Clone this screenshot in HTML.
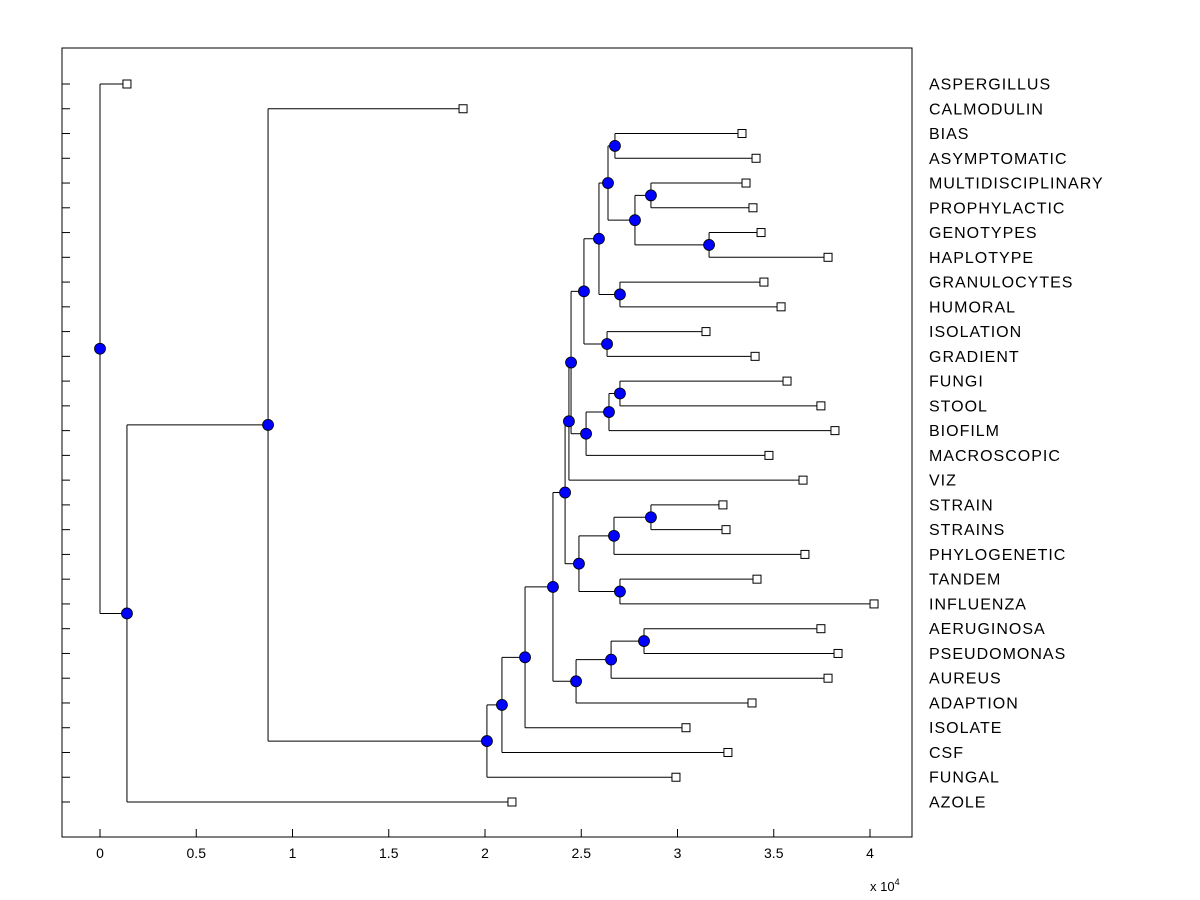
<!DOCTYPE html>
<html><head><meta charset="utf-8"><style>
html,body{margin:0;padding:0;background:#fff;}
svg{display:block;font-family:"Liberation Sans",Arial,sans-serif;}
</style></head><body>
<svg id="chart" width="1200" height="900">
<rect x="62" y="48" width="850" height="789" fill="#fff" stroke="#000" stroke-width="1"/>
<g id="axes"></g><g id="links"></g><g id="marks"></g>
<text x="870" y="891" font-size="13">x 10<tspan dy="-6" font-size="9">4</tspan></text>
</svg>
<script>
const leafNames=["ASPERGILLUS","CALMODULIN","BIAS","ASYMPTOMATIC","MULTIDISCIPLINARY","PROPHYLACTIC","GENOTYPES","HAPLOTYPE","GRANULOCYTES","HUMORAL","ISOLATION","GRADIENT","FUNGI","STOOL","BIOFILM","MACROSCOPIC","VIZ","STRAIN","STRAINS","PHYLOGENETIC","TANDEM","INFLUENZA","AERUGINOSA","PSEUDOMONAS","AUREUS","ADAPTION","ISOLATE","CSF","FUNGAL","AZOLE"];
const leafX=[0.14,1.886,3.335,3.408,3.356,3.392,3.434,3.782,3.449,3.538,3.148,3.403,3.569,3.745,3.818,3.475,3.652,3.236,3.252,3.662,3.413,4.021,3.745,3.834,3.782,3.387,3.044,3.262,2.992,2.14];
const nodeNames=["root","N1","N2","N3","N4","N5","N6","N7","N9","N11","N12","N14","N16","N18","N19","N20","N21","N17","N15","N13","N22","N23","N10","N24","N26","N25","N8","N27","N28"];
const nodeX=[0,0.14,0.873,2.01,2.088,2.208,2.353,2.416,2.436,2.447,2.514,2.592,2.639,2.675,2.779,2.862,3.164,2.701,2.634,2.525,2.644,2.701,2.488,2.670,2.862,2.701,2.473,2.655,2.826];
const nodeLeft=["ASPERGILLUS","N2","CALMODULIN","N4","N5","N6","N7","N9","N11","N12","N14","N16","N18","BIAS","N20","MULTIDISCIPLINARY","GENOTYPES","GRANULOCYTES","ISOLATION","N22","N23","FUNGI","N24","N26","STRAIN","TANDEM","N27","N28","AERUGINOSA"];
const nodeRight=["N1","AZOLE","N3","FUNGAL","CSF","ISOLATE","N8","N10","VIZ","N13","N15","N17","N19","ASYMPTOMATIC","N21","PROPHYLACTIC","HAPLOTYPE","HUMORAL","GRADIENT","MACROSCOPIC","BIOFILM","STOOL","N25","PHYLOGENETIC","STRAINS","INFLUENZA","ADAPTION","AUREUS","PSEUDOMONAS"];
const xTicks=[0,0.5,1,1.5,2,2.5,3,3.5,4];
const xTickLabels=["0","0.5","1","1.5","2","2.5","3","3.5","4"];

const NS="http://www.w3.org/2000/svg";
const sx=v=>100+v*192.5;
const rowY=i=>84+i*(802-84)/29;
function mk(tag,attrs,parent){const e=document.createElementNS(NS,tag);for(const k in attrs)e.setAttribute(k,attrs[k]);parent.appendChild(e);return e;}
const axes=document.getElementById('axes'),links=document.getElementById('links'),marks=document.getElementById('marks');

xTicks.forEach((t,i)=>{
  const l=mk('line',{x1:sx(t),x2:sx(t),y1:837,y2:829,stroke:'#000'},axes);
  
  
  const tx=mk('text',{x:sx(t),y:858,'font-size':14,'text-anchor':'middle'},axes);
  tx.textContent=xTickLabels[i];
  
  
});
leafNames.forEach((n,i)=>{
  const y=rowY(i);
  const l=mk('line',{x1:62,x2:70,y1:y,y2:y,stroke:'#000'},axes);
  
  
  const tx=mk('text',{x:929,y:y+5.5,'font-size':16,'letter-spacing':1},axes);
  tx.textContent=n;
  
  
});

const pos={};
leafNames.forEach((n,i)=>{pos[n]={x:leafX[i],y:rowY(i)};});
function getPos(n){
  if(pos[n])return pos[n];
  const i=nodeNames.indexOf(n);
  const a=getPos(nodeLeft[i]),b=getPos(nodeRight[i]);
  pos[n]={x:nodeX[i],y:(a.y+b.y)/2};
  return pos[n];
}
nodeNames.forEach((n,i)=>{
  const p=getPos(n),a=getPos(nodeLeft[i]),b=getPos(nodeRight[i]);
  const v=mk('line',{x1:sx(p.x),x2:sx(p.x),y1:a.y,y2:b.y,stroke:'#000'},links);
  
  
  [a,b].forEach(c=>{
    const h=mk('line',{x1:sx(p.x),x2:sx(c.x),y1:c.y,y2:c.y,stroke:'#000'},links);
    
    
  });
});
leafNames.forEach(n=>{
  const p=pos[n];
  const r=mk('rect',{x:sx(p.x)-4,y:p.y-4,width:8,height:8,fill:'#fff',stroke:'#000'},marks);
  
  
});
nodeNames.forEach(n=>{
  const p=pos[n];
  const c=mk('circle',{cx:sx(p.x),cy:p.y,r:5.5,fill:'#0000ff',stroke:'#000','stroke-width':0.8},marks);
  
  
});
</script>
</body></html>
